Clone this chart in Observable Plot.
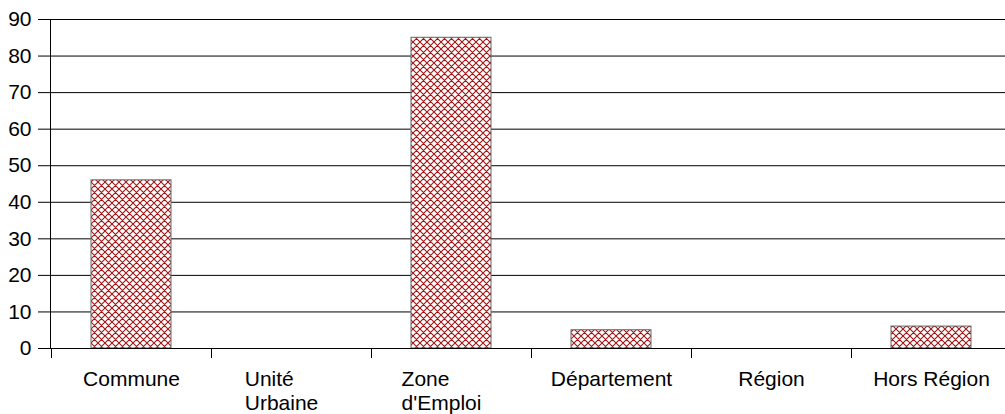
<!DOCTYPE html>
<html><head><meta charset="utf-8">
<script src="https://cdn.jsdelivr.net/npm/d3@7"></script>
<script src="https://cdn.jsdelivr.net/npm/@observablehq/plot@0.6"></script>
<style>
body{margin:0;background:#fff;}
#chart svg{display:block;}
</style>
</head><body>
<svg width="0" height="0" style="position:absolute">
  <defs>
    <pattern id="hatch" width="7" height="7" patternUnits="userSpaceOnUse">
      <rect width="7" height="7" fill="#fff"/>
      <path d="M0,0 L7,7 M7,0 L0,7 M-1,6 L1,8 M6,-1 L8,1 M-1,1 L1,-1 M6,8 L8,6" stroke="#a01414" stroke-width="1.1" fill="none"/>
    </pattern>
  </defs>
</svg>
<div id="chart"></div>
<script>
const categories = ["Commune", "Unité Urbaine", "Zone d'Emploi", "Département", "Région", "Hors Région"];
const tickLabels = ["Commune", "Unité\nUrbaine", "Zone\nd'Emploi", "Département", "Région", "Hors Région"];
const values = [46, 0, 85, 5, 0, 6];
const yTicks = [0, 10, 20, 30, 40, 50, 60, 70, 80, 90];

const data = categories.map((c, i) => ({category: c, value: values[i]}));

// category boundary ticks under the x axis, computed from the band scale
function boundaryTicks(index, scales, values, dims) {
  const x = scales.x, y = scales.y;
  const step = x(categories[1]) - x(categories[0]);
  const first = x(categories[0]) - step / 4;
  const g = d3.create("svg:g");
  for (let i = 0; i <= categories.length; i++) {
    const px = Math.round(first + i * step) + 0.5;
    g.append("line").attr("x1", px).attr("x2", px)
      .attr("y1", y(0)).attr("y2", y(0) + 10)
      .attr("stroke", "#000").attr("stroke-width", 1);
  }
  return g.node();
}
// left axis line along the frame
function leftLine(index, scales, values, dims) {
  const g = d3.create("svg:g");
  g.append("line")
    .attr("x1", dims.marginLeft + 0.5).attr("x2", dims.marginLeft + 0.5)
    .attr("y1", dims.marginTop).attr("y2", dims.height - dims.marginBottom)
    .attr("stroke", "#000").attr("stroke-width", 1);
  return g.node();
}

const chart = Plot.plot({
  width: 1005,
  height: 414,
  marginLeft: 50,
  marginRight: -7,
  marginTop: 19,
  marginBottom: 66,
  style: {fontFamily: "'Liberation Sans', Arial, sans-serif", fontSize: "21px", color: "#000", background: "#fff"},
  x: {domain: categories, paddingInner: 0.5, paddingOuter: 0.25, label: null},
  y: {domain: [0, 90], label: null},
  marks: [
    Plot.gridY(yTicks, {stroke: "#000", strokeOpacity: 1, strokeWidth: 1}),
    Plot.barY(data, {x: "category", y: "value", fill: "url(#hatch)", stroke: "#666", strokeWidth: 1}),
    Plot.ruleY([0], {stroke: "#000", strokeWidth: 1}),
    leftLine,
    boundaryTicks,
    Plot.axisY({ticks: yTicks, tickSize: 12, tickPadding: 7, fontSize: 21, label: null}),
    Plot.axisX({tickSize: 0, tickPadding: 21, fontSize: 21, lineHeight: 1.12, label: null,
      tickFormat: d => tickLabels[categories.indexOf(d)]})
  ]
});
document.getElementById("chart").append(chart);

// multi-line category labels are left-aligned blocks, as in the reference
d3.select(chart).selectAll("text").each(function() {
  const t = d3.select(this);
  if (this.querySelectorAll("tspan").length > 1) {
    const w = this.getBBox().width;
    t.attr("text-anchor", "start");
    t.selectAll("tspan").attr("text-anchor", "start");
    const tr = t.attr("transform") || "";
    t.attr("transform", tr + ` translate(${-w / 2 - 10},0)`);
  }
});
</script>
</body></html>
